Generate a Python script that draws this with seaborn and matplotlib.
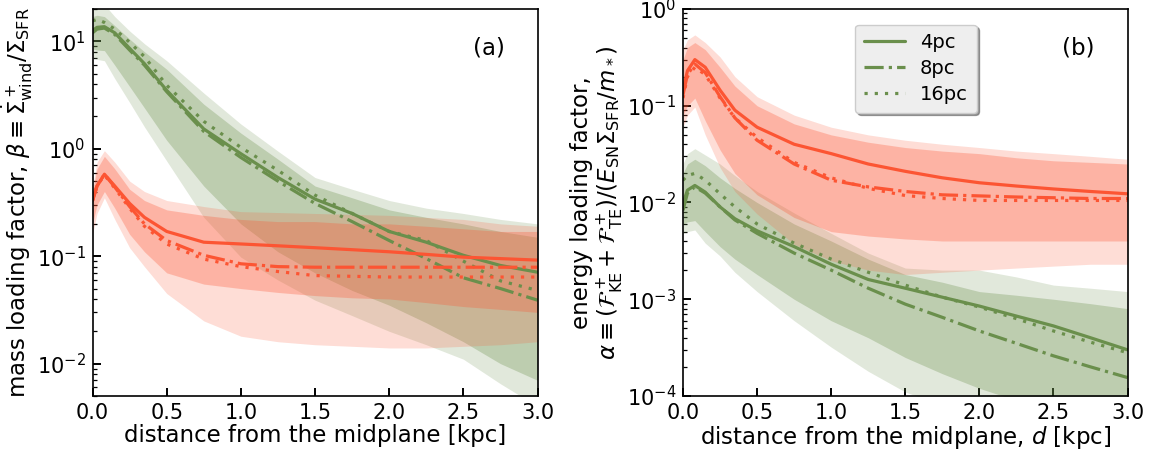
import numpy as np
import pandas as pd
import seaborn as sns
import matplotlib
matplotlib.use("Agg")
import matplotlib.pyplot as plt

# ---------------- data ----------------
d_kpc = [0, 0.03, 0.08, 0.15, 0.25, 0.35, 0.5, 0.75, 1.0, 1.25, 1.5, 1.75, 2.0, 2.25, 2.5, 2.75, 3.0]
resolutions = ["4pc", "8pc", "16pc"]

# panel (a): mass loading factor
beta_green_4pc = [12.6, 13.5, 13.7, 12.0, 8.6, 6.2, 3.5, 1.53, 0.9, 0.54, 0.34, 0.25, 0.17, 0.135, 0.102, 0.082, 0.071]
beta_green_8pc = [12.0, 13.0, 13.3, 11.6, 8.3, 6.0, 3.4, 1.45, 0.83, 0.5, 0.31, 0.21, 0.14, 0.095, 0.063, 0.05, 0.039]
beta_green_16pc = [15.5, 16.0, 15.0, 13.0, 9.8, 7.2, 3.9, 1.8, 1.03, 0.63, 0.37, 0.25, 0.17, 0.14, 0.09, 0.059, 0.048]
beta_red_4pc = [0.33, 0.45, 0.58, 0.45, 0.31, 0.23, 0.17, 0.135, 0.13, 0.125, 0.12, 0.115, 0.11, 0.104, 0.098, 0.095, 0.092]
beta_red_8pc = [0.33, 0.45, 0.58, 0.44, 0.29, 0.2, 0.14, 0.102, 0.085, 0.08, 0.079, 0.079, 0.079, 0.079, 0.079, 0.079, 0.079]
beta_red_16pc = [0.33, 0.45, 0.57, 0.43, 0.28, 0.19, 0.13, 0.094, 0.08, 0.072, 0.066, 0.065, 0.064, 0.064, 0.064, 0.064, 0.064]

beta_green_outer_hi = [25, 24, 22, 17, 12.5, 9.5, 6.6, 3.3, 1.7, 0.95, 0.54, 0.42, 0.33, 0.28, 0.25, 0.22, 0.2]
beta_green_outer_lo = [7.1, 6.8, 6.6, 4.5, 2.7, 1.6, 0.77, 0.23, 0.098, 0.06, 0.039, 0.028, 0.02, 0.015, 0.011, 0.0065, 0.004]
beta_green_inner_hi = [17, 17.5, 17, 14, 10.5, 8, 5.5, 2.6, 1.4, 0.8, 0.45, 0.35, 0.27, 0.23, 0.2, 0.17, 0.15]
beta_green_inner_lo = [8.5, 8.3, 8.2, 6.0, 3.8, 2.4, 1.2, 0.45, 0.2, 0.11, 0.07, 0.048, 0.035, 0.024, 0.016, 0.01, 0.007]
beta_red_outer_hi = [0.44, 0.75, 0.96, 0.75, 0.5, 0.4, 0.33, 0.29, 0.26, 0.255, 0.25, 0.245, 0.24, 0.23, 0.22, 0.2, 0.19]
beta_red_outer_lo = [0.16, 0.25, 0.35, 0.22, 0.12, 0.08, 0.045, 0.025, 0.018, 0.016, 0.015, 0.0145, 0.014, 0.014, 0.0145, 0.015, 0.016]
beta_red_inner_hi = [0.4, 0.65, 0.85, 0.65, 0.42, 0.33, 0.27, 0.24, 0.22, 0.21, 0.21, 0.2, 0.2, 0.19, 0.18, 0.17, 0.17]
beta_red_inner_lo = [0.2, 0.3, 0.4, 0.28, 0.16, 0.11, 0.07, 0.055, 0.05, 0.046, 0.043, 0.041, 0.04, 0.037, 0.034, 0.032, 0.03]

# panel (b): energy loading factor
alpha_red_4pc = [0.145, 0.23, 0.3, 0.25, 0.145, 0.09, 0.06, 0.04, 0.032, 0.025, 0.021, 0.018, 0.016, 0.0148, 0.0138, 0.013, 0.0123]
alpha_red_8pc = [0.13, 0.21, 0.27, 0.22, 0.124, 0.075, 0.044, 0.025, 0.017, 0.0145, 0.013, 0.012, 0.0117, 0.0114, 0.0112, 0.011, 0.011]
alpha_red_16pc = [0.12, 0.2, 0.25, 0.21, 0.12, 0.075, 0.047, 0.026, 0.018, 0.014, 0.0118, 0.011, 0.0105, 0.0105, 0.0105, 0.0105, 0.0105]
alpha_green_4pc = [0.0098, 0.0134, 0.015, 0.0128, 0.009, 0.0068, 0.0051, 0.0035, 0.0023, 0.0016, 0.0013, 0.00105, 0.00085, 0.00067, 0.00053, 0.0004, 0.0003]
alpha_green_8pc = [0.0083, 0.0125, 0.0145, 0.0125, 0.009, 0.0066, 0.0048, 0.003, 0.002, 0.0013, 0.00089, 0.00065, 0.00047, 0.00035, 0.00026, 0.0002, 0.000155]
alpha_green_16pc = [0.017, 0.019, 0.02, 0.017, 0.0123, 0.009, 0.006, 0.0038, 0.0026, 0.0019, 0.0014, 0.00105, 0.00083, 0.00063, 0.00047, 0.00036, 0.00028]

alpha_red_outer_hi = [0.38, 0.48, 0.54, 0.45, 0.32, 0.2, 0.124, 0.08, 0.06, 0.05, 0.044, 0.04, 0.037, 0.034, 0.032, 0.03, 0.028]
alpha_red_outer_lo = [0.06, 0.08, 0.097, 0.05, 0.023, 0.013, 0.0076, 0.0037, 0.0025, 0.002, 0.0018, 0.0019, 0.002, 0.0021, 0.0022, 0.0023, 0.0023]
alpha_red_inner_hi = [0.3, 0.4, 0.45, 0.38, 0.25, 0.16, 0.1, 0.065, 0.05, 0.042, 0.037, 0.034, 0.032, 0.029, 0.027, 0.026, 0.025]
alpha_red_inner_lo = [0.08, 0.1, 0.12, 0.07, 0.035, 0.02, 0.012, 0.007, 0.005, 0.0045, 0.0042, 0.004, 0.004, 0.004, 0.004, 0.004, 0.004]
alpha_green_outer_hi = [0.025, 0.032, 0.036, 0.031, 0.025, 0.019, 0.013, 0.0078, 0.0048, 0.003, 0.0021, 0.002, 0.002, 0.0017, 0.0014, 0.0013, 0.0012]
alpha_green_outer_lo = [0.0048, 0.005, 0.0052, 0.0038, 0.0028, 0.0019, 0.0012, 0.0006, 0.00032, 0.00018, 0.00011, 0.00008, 0.00006, 0.00004, 0.00003, 0.000025, 0.00002]
alpha_green_inner_hi = [0.02, 0.025, 0.028, 0.024, 0.018, 0.014, 0.01, 0.006, 0.004, 0.0026, 0.0018, 0.0015, 0.0012, 0.0011, 0.001, 0.0009, 0.0008]
alpha_green_inner_lo = [0.006, 0.0063, 0.0065, 0.005, 0.0035, 0.0026, 0.0018, 0.001, 0.0006, 0.0004, 0.00025, 0.00017, 0.00012, 0.00009, 0.00007, 0.00005, 0.00004]

# ---------------- style ----------------
GREEN = "#6a8f4c"
RED = "#fc5533"
LS = {"4pc": "-", "8pc": (0, (6, 1.6, 1, 1.6)), "16pc": (0, (1, 2.2))}

sns.set_style("ticks", {"xtick.direction": "in", "ytick.direction": "in",
                        "axes.edgecolor": "black", "text.color": "black",
                        "axes.labelcolor": "black", "xtick.color": "black",
                        "ytick.color": "black"})
plt.rcParams["font.family"] = ["DejaVu Sans"]
plt.rcParams["mathtext.fontset"] = "dejavusans"

fig = plt.figure(figsize=(11.51, 4.51), dpi=100)
ax1 = fig.add_axes([0.0804, 0.122, 0.3866, 0.858])
ax2 = fig.add_axes([0.5934, 0.122, 0.3862, 0.858])

def draw(ax, bands, lines):
    for color, (ohi, olo, ihi, ilo) in bands:
        ax.fill_between(d_kpc, olo, ohi, color=color, alpha=0.2, lw=0)
        ax.fill_between(d_kpc, ilo, ihi, color=color, alpha=0.3, lw=0)
    for color, series in lines:
        for res, vals in zip(resolutions, series):
            df = pd.DataFrame({"d": d_kpc, "v": vals})
            sns.lineplot(data=df, x="d", y="v", ax=ax, color=color, lw=2.3,
                         linestyle=LS[res], label=res if color == GREEN else None)

draw(ax1,
     [(GREEN, (beta_green_outer_hi, beta_green_outer_lo, beta_green_inner_hi, beta_green_inner_lo)),
      (RED, (beta_red_outer_hi, beta_red_outer_lo, beta_red_inner_hi, beta_red_inner_lo))],
     [(GREEN, [beta_green_4pc, beta_green_8pc, beta_green_16pc]),
      (RED, [beta_red_4pc, beta_red_8pc, beta_red_16pc])])
draw(ax2,
     [(GREEN, (alpha_green_outer_hi, alpha_green_outer_lo, alpha_green_inner_hi, alpha_green_inner_lo)),
      (RED, (alpha_red_outer_hi, alpha_red_outer_lo, alpha_red_inner_hi, alpha_red_inner_lo))],
     [(RED, [alpha_red_4pc, alpha_red_8pc, alpha_red_16pc]),
      (GREEN, [alpha_green_4pc, alpha_green_8pc, alpha_green_16pc])])

for ax in (ax1, ax2):
    ax.set_yscale("log")
    ax.set_xlim(0, 3.0)
    ax.set_xticks([0, 0.5, 1.0, 1.5, 2.0, 2.5, 3.0])
    ax.set_xticklabels(["0.0", "0.5", "1.0", "1.5", "2.0", "2.5", "3.0"])
    ax.tick_params(which="both", direction="in", labelsize=15, color="black",
                   bottom=True, left=True, top=False, right=False)
    ax.tick_params(which="major", length=6, width=1.4, pad=5)
    ax.tick_params(which="minor", length=3, width=0.9)
    ax.tick_params(axis="x", which="minor", bottom=False)
    for s in ax.spines.values():
        s.set_linewidth(1.2)
        s.set_color("black")

ax1.set_ylim(0.005, 20)
ax2.set_ylim(1e-4, 1)

ax1.set_xlabel("distance from the midplane [kpc]", fontsize=16.5, labelpad=1)
ax1.set_ylabel(r"mass loading factor, $\beta \equiv \dot{\Sigma}^+_{\rm wind}/\Sigma_{\rm SFR}$",
               fontsize=16.5, labelpad=1)
ax2.set_xlabel(r"distance from the midplane, $d$ [kpc]", fontsize=16.5, labelpad=1)
ax2.set_ylabel("energy loading factor,\n"
               r"$\alpha \equiv (\mathcal{F}^+_{\rm KE}+\mathcal{F}^+_{\rm TE})/(E_{\rm SN}\Sigma_{\rm SFR}/m_*)$",
               fontsize=16.5, labelpad=1, linespacing=1.1)

ax1.text(0.89, 0.9, "(a)", transform=ax1.transAxes, fontsize=16.5, ha="center", va="center")
ax2.text(0.889, 0.9, "(b)", transform=ax2.transAxes, fontsize=16.5, ha="center", va="center")

if ax1.get_legend() is not None:
    ax1.get_legend().remove()
leg = ax2.legend(loc="upper left", bbox_to_anchor=(0.365, 0.985), fontsize=14,
                 shadow=True, fancybox=True, facecolor="#eeeeee", edgecolor="#cccccc",
                 framealpha=1.0, handlelength=2.1, borderpad=0.45, labelspacing=0.35,
                 handletextpad=0.8)

fig.savefig("out.png", dpi=100)
